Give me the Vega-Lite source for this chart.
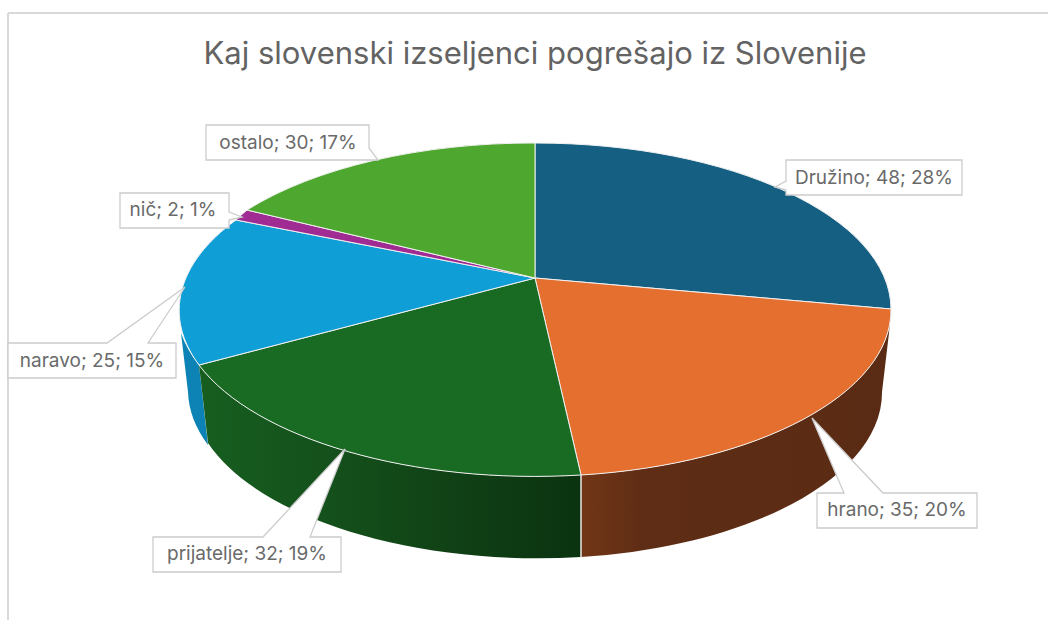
{
"$schema":"https://vega.github.io/schema/vega-lite/v6.json",
"width":1048,"height":620,"padding":0,"autosize":{"type":"none"},"background":"white",
"title":{"text":"Kaj slovenski izseljenci pogrešajo iz Slovenije","anchor":"middle","frame":"group","orient":"top","offset":-71,"dx":11,"font":"Inter","fontSize":31,"fontWeight":"normal","color":"#636363"},
"config":{"view":{"stroke":null}},
"data":{"values":[
{"kategorija":"Družino","vrednost":48,"delez":"28%","oznaka":"Družino; 48; 28%"},
{"kategorija":"hrano","vrednost":35,"delez":"20%","oznaka":"hrano; 35; 20%"},
{"kategorija":"prijatelje","vrednost":32,"delez":"19%","oznaka":"prijatelje; 32; 19%"},
{"kategorija":"naravo","vrednost":25,"delez":"15%","oznaka":"naravo; 25; 15%"},
{"kategorija":"nič","vrednost":2,"delez":"1%","oznaka":"nič; 2; 1%"},
{"kategorija":"ostalo","vrednost":30,"delez":"17%","oznaka":"ostalo; 30; 17%"}
]},
"resolve":{"scale":{"shape":"independent"}},
"layer":[
{"mark":{"type":"rule","color":"#D9D9D9","strokeWidth":1.5},
 "encoding":{"x":{"datum":-527,"type":"quantitative","scale":{"domain":[-535,513]},"axis":null},"y":{"datum":-265,"type":"quantitative","scale":{"domain":[-278,342],"reverse":true},"axis":null},"y2":{"datum":342}}},
{"mark":{"type":"rule","color":"#D9D9D9","strokeWidth":1.5},
 "encoding":{"x":{"datum":-527,"type":"quantitative","scale":{"domain":[-535,513]},"axis":null},"x2":{"datum":513},"y":{"datum":-265,"type":"quantitative","scale":{"domain":[-278,342],"reverse":true},"axis":null}}},
{"transform":[{"filter":"datum.kategorija==='naravo'"}],
 "mark":{"type":"point","filled":true,"opacity":1,"size":4,"shape":"M-354,55A356 166.5 0 0 0 -336,87L-327,167A347 166 0 0 1 -347,114Z","fill":"#0C83B4","strokeWidth":0},
 "encoding":{"x":{"datum":0,"type":"quantitative","scale":{"domain":[-535,513]},"axis":null},"y":{"datum":0,"type":"quantitative","scale":{"domain":[-278,342],"reverse":true},"axis":null}}},
{"transform":[{"filter":"datum.kategorija==='prijatelje'"}],
 "mark":{"type":"point","filled":true,"opacity":1,"size":4,"shape":"M-336,87A356 166.5 0 0 0 46,197L46,279A347 166 0 0 1 -327,165Z","fill":{"gradient":"linear","x1":0,"y1":0,"x2":1,"y2":0,"stops":[{"offset":0,"color":"#175E20"},{"offset":0.35,"color":"#14501B"},{"offset":0.7,"color":"#103F15"},{"offset":1,"color":"#0A3310"}]},"stroke":"#E8E8E8","strokeWidth":0},
 "encoding":{"x":{"datum":0,"type":"quantitative","scale":{"domain":[-535,513]},"axis":null},"y":{"datum":0,"type":"quantitative","scale":{"domain":[-278,342],"reverse":true},"axis":null}}},
{"transform":[{"filter":"datum.kategorija==='hrano'"}],
 "mark":{"type":"point","filled":true,"opacity":1,"size":4,"shape":"M356,31A356 166.5 0 0 1 46,197L46,279A347 166 0 0 0 347,114L354,55Z","fill":{"gradient":"linear","x1":0,"y1":0,"x2":1,"y2":0,"stops":[{"offset":0,"color":"#723616"},{"offset":0.2,"color":"#5F2D15"},{"offset":1,"color":"#5A2B14"}]},"stroke":"#E8E8E8","strokeWidth":0},
 "encoding":{"x":{"datum":0,"type":"quantitative","scale":{"domain":[-535,513]},"axis":null},"y":{"datum":0,"type":"quantitative","scale":{"domain":[-278,342],"reverse":true},"axis":null}}},
{"transform":[{"filter":"datum.kategorija==='hrano'"}],
 "mark":{"type":"rule","color":"#E8E8E8","strokeWidth":1.5},
 "encoding":{"x":{"datum":46,"type":"quantitative","scale":{"domain":[-535,513]},"axis":null},"y":{"datum":197,"type":"quantitative","scale":{"domain":[-278,342],"reverse":true},"axis":null},"y2":{"datum":280}}},
{"mark":{"type":"point","filled":true,"opacity":1,"size":4,"stroke":"#F0F0F0","strokeWidth":1},
 "encoding":{"x":{"datum":0,"type":"quantitative","scale":{"domain":[-535,513]},"axis":null},"y":{"datum":0,"type":"quantitative","scale":{"domain":[-278,342],"reverse":true},"axis":null},
 "color":{"field":"kategorija","type":"nominal","legend":null,"scale":{"domain":["Družino","hrano","prijatelje","naravo","nič","ostalo"],"range":["#156082","#E46F2F","#196B24","#0F9ED5","#A02B93","#4EA72E"]}},
 "shape":{"field":"kategorija","type":"nominal","legend":null,"scale":{"domain":["Družino","hrano","prijatelje","naravo","nič","ostalo"],"range":[
 "M0,0L0,-135A356 166.5 0 0 1 356,31Z",
 "M0,0L356,31A356 166.5 0 0 1 46,197Z",
 "M0,0L46,197A356 166.5 0 0 1 -336,87Z",
 "M0,0L-336,87A356 166.5 0 0 1 -299,-58Z",
 "M0,0L-299,-58A356 166.5 0 0 1 -288,-68Z",
 "M0,0L-288,-68A356 166.5 0 0 1 0,-135Z"]}}}},
{"mark":{"type":"point","filled":true,"opacity":1,"size":4,"fill":"white","stroke":"#CCCCCC","strokeWidth":1.3},
 "encoding":{"x":{"datum":0,"type":"quantitative","scale":{"domain":[-535,513]},"axis":null},"y":{"datum":0,"type":"quantitative","scale":{"domain":[-278,342],"reverse":true},"axis":null},
 "shape":{"field":"kategorija","type":"nominal","legend":null,"scale":{"domain":["Družino","hrano","prijatelje","naravo","nič","ostalo"],"range":[
 "M251,-118H427V-83H251V-88L240,-91L251,-97Z",
 "M282,215H309L277,140L348,215H442V250H282Z",
 "M-382,259H-272L-190,171L-225,259H-194V294H-382Z",
 "M-527,65H-428L-350,9L-387,65H-359V100H-527Z",
 "M-415,-85H-306V-66L-293,-61L-306,-58V-50H-415Z",
 "M-329,-153H-166V-130L-157,-118L-167,-118H-329Z"]}}}},
{"transform":[{"filter":"datum.kategorija==='Družino'"}],"mark":{"type":"text","font":"Inter","fontSize":19,"color":"#6A6A6A"},
 "encoding":{"text":{"field":"oznaka"},"x":{"datum":339,"type":"quantitative","scale":{"domain":[-535,513]},"axis":null},"y":{"datum":-100,"type":"quantitative","scale":{"domain":[-278,342],"reverse":true},"axis":null}}},
{"transform":[{"filter":"datum.kategorija==='hrano'"}],"mark":{"type":"text","font":"Inter","fontSize":19,"color":"#6A6A6A"},
 "encoding":{"text":{"field":"oznaka"},"x":{"datum":362,"type":"quantitative","scale":{"domain":[-535,513]},"axis":null},"y":{"datum":232,"type":"quantitative","scale":{"domain":[-278,342],"reverse":true},"axis":null}}},
{"transform":[{"filter":"datum.kategorija==='prijatelje'"}],"mark":{"type":"text","font":"Inter","fontSize":19,"color":"#6A6A6A"},
 "encoding":{"text":{"field":"oznaka"},"x":{"datum":-288,"type":"quantitative","scale":{"domain":[-535,513]},"axis":null},"y":{"datum":276,"type":"quantitative","scale":{"domain":[-278,342],"reverse":true},"axis":null}}},
{"transform":[{"filter":"datum.kategorija==='naravo'"}],"mark":{"type":"text","font":"Inter","fontSize":19,"color":"#6A6A6A"},
 "encoding":{"text":{"field":"oznaka"},"x":{"datum":-443,"type":"quantitative","scale":{"domain":[-535,513]},"axis":null},"y":{"datum":83,"type":"quantitative","scale":{"domain":[-278,342],"reverse":true},"axis":null}}},
{"transform":[{"filter":"datum.kategorija==='nič'"}],"mark":{"type":"text","font":"Inter","fontSize":19,"color":"#6A6A6A"},
 "encoding":{"text":{"field":"oznaka"},"x":{"datum":-362,"type":"quantitative","scale":{"domain":[-535,513]},"axis":null},"y":{"datum":-68,"type":"quantitative","scale":{"domain":[-278,342],"reverse":true},"axis":null}}},
{"transform":[{"filter":"datum.kategorija==='ostalo'"}],"mark":{"type":"text","font":"Inter","fontSize":19,"color":"#6A6A6A"},
 "encoding":{"text":{"field":"oznaka"},"x":{"datum":-247,"type":"quantitative","scale":{"domain":[-535,513]},"axis":null},"y":{"datum":-135,"type":"quantitative","scale":{"domain":[-278,342],"reverse":true},"axis":null}}}
]
}
